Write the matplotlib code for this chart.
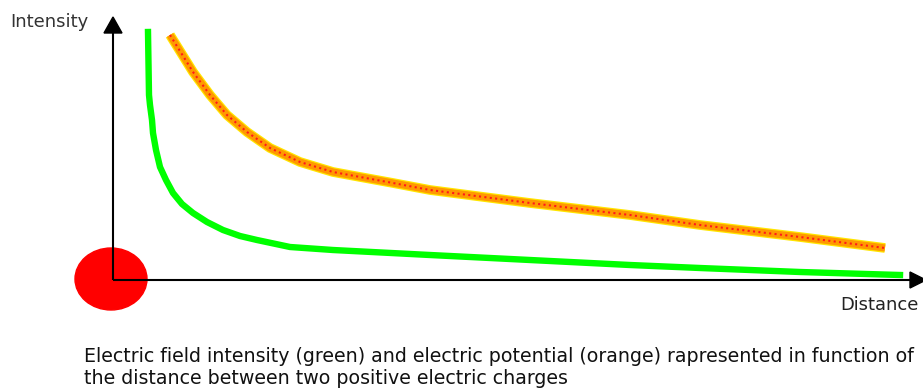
import matplotlib
matplotlib.use("Agg")
import matplotlib.pyplot as plt
from matplotlib.patches import Ellipse

# Data (distance, intensity) in arbitrary units
green_x = [35, 36, 37, 39, 40, 43, 47, 53, 60, 69, 80, 94, 110, 127, 144, 177, 220,
           317, 417, 517, 587, 687, 787]
green_y = [248, 185, 175, 160, 147, 130, 113, 100, 87, 76, 67, 58, 50, 44, 40, 33, 30,
           25, 20, 15, 12, 8, 5]
orange_x = [57, 80, 97, 114, 134, 157, 187, 220, 280, 317, 417, 517, 587, 687, 772]
orange_y = [245, 208, 185, 165, 148, 132, 118, 108, 97, 90, 77, 65, 55, 43, 32]

y_label = "Intensity"
x_label = "Distance"
caption_lines = ["Electric field intensity (green) and electric potential (orange) rapresented in function of",
                 "the distance between two positive electric charges"]

plt.rcParams['font.family'] = ['DejaVu Sans']

W, H = 923, 392
fig = plt.figure(figsize=(W / 100, H / 100), dpi=100)
ax = fig.add_axes([0, 0, 1, 1])
ax.set_xlim(-113, W - 113)
ax.set_ylim(280 - H, 280)
ax.axis('off')

# charge
ax.add_patch(Ellipse((-2, 1), 72, 62, color='#ff0000', zorder=1))

# axes with arrows
ax.plot([0, 0], [0, 249], color='black', lw=1.5, zorder=2, solid_capstyle='butt')
ax.plot([0, 798], [0, 0], color='black', lw=1.5, zorder=2, solid_capstyle='butt')
ax.fill([-9, 9, 0], [247, 247, 263], color='black', zorder=3)
ax.fill([797, 797, 813], [-8, 8, 0], color='black', zorder=3)

# green curve
ax.plot(green_x, green_y, color='#00ff00', lw=4.6, zorder=4, solid_joinstyle='round')

# orange curve (yellow edge, orange body, red dotted pattern)
ax.plot(orange_x, orange_y, color='#ffe600', lw=7.0, zorder=4, solid_capstyle='butt',
        solid_joinstyle='round')
ax.plot(orange_x, orange_y, color='#ff9900', lw=5.2, zorder=5, solid_capstyle='butt',
        solid_joinstyle='round')
ax.plot(orange_x, orange_y, color='#ff1a1a', lw=1.5, ls=(0, (1.0, 1.6)), zorder=6)

renderer = fig.canvas.get_renderer()


def fit_text(x, y, s, target_w, size, **kw):
    t = ax.text(x, y, s, fontsize=size, va='center', ha='left', **kw)
    w = t.get_window_extent(renderer).width
    t.set_fontsize(size * target_w / w)
    return t


fit_text(-103, 258, y_label, 78, 10, color='#333333')
fit_text(727, -25, x_label, 78, 10, color='#222222')
t1 = fit_text(-29, -77, caption_lines[0], 831, 11, color='#111111')
ax.text(-29, -98, caption_lines[1], fontsize=t1.get_fontsize(), va='center', ha='left',
        color='#111111')

fig.savefig("out.png", dpi=100)
